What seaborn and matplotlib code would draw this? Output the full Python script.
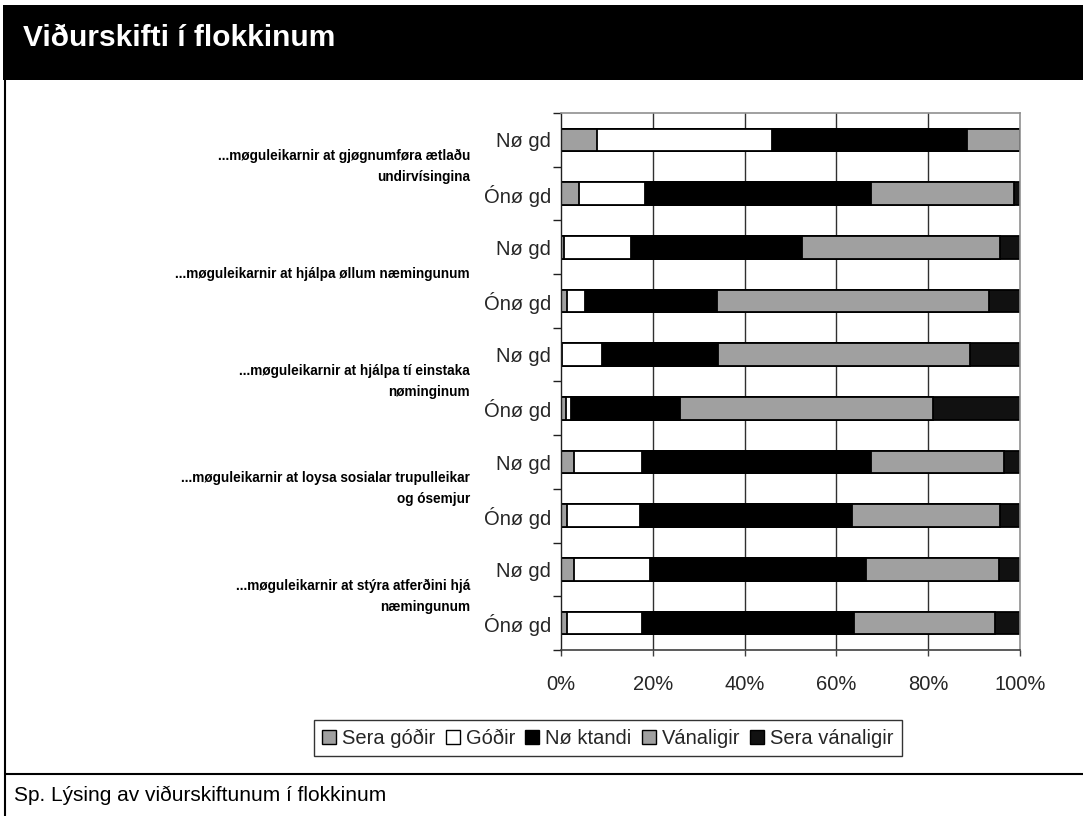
import numpy as np
import pandas as pd
import seaborn as sns
import matplotlib.pyplot as plt
from matplotlib.patches import Patch, Rectangle
from matplotlib.lines import Line2D
from matplotlib.transforms import blended_transform_factory
from matplotlib.ticker import MultipleLocator, FixedLocator, FuncFormatter

sns.set_theme(style="white")
plt.rcParams['font.family'] = ['Liberation Sans', 'DejaVu Sans']

# ---- data -------------------------------------------------------------
items = [
    "...møguleikarnir at gjøgnumføra ætlaðu\nundirvísingina",
    "...møguleikarnir at hjálpa øllum næmingunum",
    "...møguleikarnir at hjálpa tí einstaka\nnøminginum",
    "...møguleikarnir at loysa sosialar trupulleikar\nog ósemjur",
    "...møguleikarnir at stýra atferðini hjá\nnæmingunum",
]
groups = ["Nø gd", "Ónø gd"]
series = ["Sera góðir", "Góðir", "Nø ktandi", "Vánaligir", "Sera vánaligir"]

# one value per bar, top to bottom (item 1 Nøgd, item 1 Ónøgd, item 2 Nøgd, ...)
sera_godir     = [7.8, 4.0, 0.7, 1.2, 0.3, 1.1, 2.8, 1.2, 2.8, 1.2]
godir          = [38.2, 14.4, 14.6, 4.0, 8.6, 1.1, 14.9, 16.1, 16.5, 16.5]
noktandi       = [42.5, 49.1, 37.3, 28.7, 25.4, 23.7, 49.9, 46.2, 47.1, 46.2]
vanaligir      = [11.5, 31.2, 43.1, 59.3, 54.7, 55.1, 28.9, 32.2, 29.0, 30.6]
sera_vanaligir = [0.0, 1.3, 4.3, 6.8, 11.0, 19.0, 3.5, 4.3, 4.6, 5.5]

colors = ["#A0A0A0", "#FFFFFF", "#000000", "#A0A0A0", "#111111"]

# ---- table ------------------------------------------------------------
rows = [f"{i}-{g}" for i in range(len(items)) for g in groups]
df = pd.DataFrame({
    "row": rows,
    "group": [g for _ in items for g in groups],
})
values = np.array([sera_godir, godir, noktandi, vanaligir, sera_vanaligir])
cum = np.cumsum(values, axis=0)
for k in range(len(series)):
    df[f"cum{k}"] = cum[k]

# ---- figure -----------------------------------------------------------
W, H = 1083, 816
fig = plt.figure(figsize=(W / 100, H / 100), dpi=100)
fig.patch.set_facecolor("white")
ax = fig.add_axes([561 / W, 1 - 650 / H, 459 / W, 537 / H])

# stacked bars: draw cumulative totals from the outermost segment inward
for k in reversed(range(len(series))):
    sns.barplot(data=df, x=f"cum{k}", y="row", order=rows, orient="h",
                color=colors[k], saturation=1, edgecolor="black",
                linewidth=1.3, width=0.42, errorbar=None, ax=ax)

ax.set_xlim(0, 100)
ax.set_ylim(len(rows) - 0.5, -0.5)
ax.set_xlabel("")
ax.set_ylabel("")

# vertical gridlines
for gx in [20, 40, 60, 80]:
    ax.axvline(gx, color="#303030", lw=1.0, zorder=0)

ax.xaxis.set_major_locator(MultipleLocator(20))
ax.xaxis.set_major_formatter(FuncFormatter(lambda v, p: f"{v:.0f}%"))
ax.tick_params(axis="x", direction="out", length=4, width=1, color="#404040",
               pad=14, labelsize=14.5, bottom=True)

ax.set_yticks(range(len(rows)))
ax.set_yticklabels(df["group"].tolist())
ax.yaxis.set_minor_locator(FixedLocator(np.arange(-0.5, len(rows), 1.0)))
ax.tick_params(axis="y", which="major", length=0, pad=7, labelsize=14.5,
               left=True)
ax.tick_params(axis="y", which="minor", direction="out", length=6, width=1,
               color="#202020", left=True)

for side in ["top", "right"]:
    ax.spines[side].set_color("#909090")
    ax.spines[side].set_linewidth(1.2)
ax.spines["left"].set_color("#202020")
ax.spines["left"].set_linewidth(1.0)
ax.spines["bottom"].set_color("#404040")
ax.spines["bottom"].set_linewidth(1.2)

# item labels, centred on each pair of bars
trans = blended_transform_factory(fig.transFigure, ax.transData)
for i, label in enumerate(items):
    ax.text(470 / W, 2 * i + 0.5, label, transform=trans, ha="right",
            va="center", multialignment="right", fontsize=9.8, weight="bold",
            linespacing=1.65, color="black")

# legend
handles = [Patch(facecolor=c, edgecolor="black", linewidth=1.0) for c in colors]
leg = fig.legend(handles, series, loc="center", bbox_to_anchor=(608 / W, 1 - 738 / H),
                 ncol=5, frameon=True, fancybox=False, edgecolor="black",
                 fontsize=14.5, handlelength=0.7, handleheight=0.7,
                 handletextpad=0.3, columnspacing=0.5, borderpad=0.4)
leg.get_frame().set_linewidth(1.0)

# title band and outer frame
fig.patches.append(Rectangle((3 / W, 1 - 80 / H), 1, 75 / H, transform=fig.transFigure,
                             facecolor="black", edgecolor="none", zorder=0))
fig.text(23 / W, 1 - 38 / H, "Viðurskifti í flokkinum", color="white",
         fontsize=21.5, weight="bold", va="center", ha="left")
fig.lines.append(Line2D([4.5 / W, 4.5 / W], [0, 1 - 80 / H], transform=fig.transFigure,
                        color="black", lw=1.5))
fig.lines.append(Line2D([4.5 / W, 1], [1 - 774 / H, 1 - 774 / H], transform=fig.transFigure,
                        color="black", lw=1.5))
fig.text(14 / W, 1 - 795 / H, "Sp. Lýsing av viðurskiftunum í flokkinum",
         fontsize=15, va="center", ha="left", color="black")

fig.savefig("out.png", dpi=100, facecolor="white")
